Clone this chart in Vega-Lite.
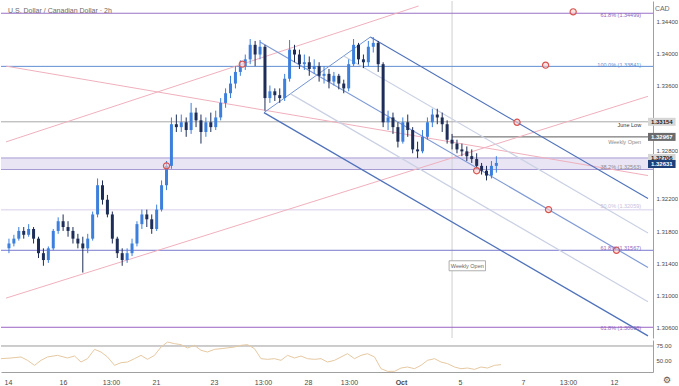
{
  "$schema": "https://vega.github.io/schema/vega-lite/v6.json",
  "padding": 0,
  "spacing": 1,
  "background": "white",
  "config": {
    "view": {"stroke": null},
    "font": "Liberation Sans",
    "axis": {"labelFont": "Liberation Sans", "labelFontSize": 6, "labelColor": "#4a4a4a", "ticks": false, "grid": false, "domainColor": "#a0a0a0", "labelPadding": 3, "title": null}
  },
  "datasets": {
    "candles": [
      {"t":0,"o":1.31586,"h":1.31706,"l":1.31526,"c":1.31646},
      {"t":1,"o":1.31646,"h":1.31754,"l":1.31610,"c":1.31706},
      {"t":2,"o":1.31706,"h":1.31850,"l":1.31682,"c":1.31802},
      {"t":3,"o":1.31802,"h":1.31850,"l":1.31706,"c":1.31754},
      {"t":4,"o":1.31754,"h":1.31886,"l":1.31730,"c":1.31826},
      {"t":5,"o":1.31826,"h":1.31850,"l":1.31646,"c":1.31706},
      {"t":6,"o":1.31706,"h":1.31730,"l":1.31466,"c":1.31526},
      {"t":7,"o":1.31526,"h":1.31586,"l":1.31370,"c":1.31441},
      {"t":8,"o":1.31441,"h":1.31610,"l":1.31406,"c":1.31586},
      {"t":9,"o":1.31586,"h":1.31826,"l":1.31562,"c":1.31802},
      {"t":10,"o":1.31802,"h":1.31970,"l":1.31766,"c":1.31922},
      {"t":11,"o":1.31922,"h":1.32006,"l":1.31802,"c":1.31850},
      {"t":12,"o":1.31850,"h":1.31922,"l":1.31730,"c":1.31802},
      {"t":13,"o":1.31802,"h":1.31850,"l":1.31646,"c":1.31706},
      {"t":14,"o":1.31706,"h":1.31766,"l":1.31586,"c":1.31646},
      {"t":15,"o":1.31646,"h":1.31730,"l":1.31286,"c":1.31586},
      {"t":16,"o":1.31586,"h":1.31766,"l":1.31526,"c":1.31706},
      {"t":17,"o":1.31706,"h":1.32042,"l":1.31682,"c":1.32006},
      {"t":18,"o":1.32006,"h":1.32452,"l":1.31970,"c":1.32368},
      {"t":19,"o":1.32368,"h":1.32428,"l":1.32128,"c":1.32188},
      {"t":20,"o":1.32188,"h":1.32248,"l":1.31970,"c":1.32006},
      {"t":21,"o":1.32006,"h":1.32042,"l":1.31646,"c":1.31706},
      {"t":22,"o":1.31706,"h":1.31730,"l":1.31466,"c":1.31526},
      {"t":23,"o":1.31526,"h":1.31586,"l":1.31370,"c":1.31441},
      {"t":24,"o":1.31441,"h":1.31586,"l":1.31406,"c":1.31526},
      {"t":25,"o":1.31526,"h":1.31706,"l":1.31490,"c":1.31646},
      {"t":26,"o":1.31646,"h":1.31922,"l":1.31610,"c":1.31886},
      {"t":27,"o":1.31886,"h":1.32066,"l":1.31826,"c":1.32006},
      {"t":28,"o":1.32006,"h":1.32066,"l":1.31850,"c":1.31946},
      {"t":29,"o":1.31946,"h":1.32006,"l":1.31766,"c":1.31826},
      {"t":30,"o":1.31826,"h":1.32128,"l":1.31802,"c":1.32066},
      {"t":31,"o":1.32066,"h":1.32428,"l":1.32042,"c":1.32368},
      {"t":32,"o":1.32368,"h":1.32668,"l":1.32308,"c":1.32608},
      {"t":33,"o":1.32608,"h":1.33208,"l":1.32572,"c":1.33124},
      {"t":34,"o":1.33124,"h":1.33244,"l":1.33028,"c":1.33088},
      {"t":35,"o":1.33088,"h":1.33244,"l":1.33028,"c":1.33148},
      {"t":36,"o":1.33148,"h":1.33208,"l":1.32968,"c":1.33052},
      {"t":37,"o":1.33052,"h":1.33388,"l":1.33004,"c":1.33268},
      {"t":38,"o":1.33268,"h":1.33328,"l":1.33088,"c":1.33172},
      {"t":39,"o":1.33172,"h":1.33244,"l":1.32884,"c":1.33028},
      {"t":40,"o":1.33028,"h":1.33208,"l":1.32968,"c":1.33148},
      {"t":41,"o":1.33148,"h":1.33268,"l":1.33028,"c":1.33088},
      {"t":42,"o":1.33088,"h":1.33292,"l":1.33052,"c":1.33208},
      {"t":43,"o":1.33208,"h":1.33448,"l":1.33172,"c":1.33388},
      {"t":44,"o":1.33388,"h":1.33568,"l":1.33328,"c":1.33508},
      {"t":45,"o":1.33508,"h":1.33724,"l":1.33448,"c":1.33628},
      {"t":46,"o":1.33628,"h":1.33844,"l":1.33568,"c":1.33772},
      {"t":47,"o":1.33772,"h":1.33916,"l":1.33724,"c":1.33844},
      {"t":48,"o":1.33844,"h":1.33988,"l":1.33796,"c":1.33928},
      {"t":49,"o":1.33928,"h":1.34180,"l":1.33868,"c":1.34108},
      {"t":50,"o":1.34108,"h":1.34156,"l":1.33844,"c":1.33988},
      {"t":51,"o":1.33988,"h":1.34168,"l":1.33928,"c":1.34084},
      {"t":52,"o":1.34084,"h":1.34108,"l":1.33292,"c":1.33448},
      {"t":53,"o":1.33448,"h":1.33604,"l":1.33388,"c":1.33532},
      {"t":54,"o":1.33532,"h":1.33568,"l":1.33412,"c":1.33484},
      {"t":55,"o":1.33484,"h":1.33568,"l":1.33388,"c":1.33448},
      {"t":56,"o":1.33448,"h":1.33748,"l":1.33412,"c":1.33688},
      {"t":57,"o":1.33688,"h":1.34168,"l":1.33652,"c":1.34048},
      {"t":58,"o":1.34048,"h":1.34108,"l":1.33892,"c":1.33988},
      {"t":59,"o":1.33988,"h":1.34048,"l":1.33808,"c":1.33868},
      {"t":60,"o":1.33868,"h":1.33988,"l":1.33796,"c":1.33892},
      {"t":61,"o":1.33892,"h":1.33964,"l":1.33724,"c":1.33808},
      {"t":62,"o":1.33808,"h":1.33928,"l":1.33748,"c":1.33844},
      {"t":63,"o":1.33844,"h":1.33892,"l":1.33652,"c":1.33724},
      {"t":64,"o":1.33724,"h":1.33844,"l":1.33628,"c":1.33748},
      {"t":65,"o":1.33748,"h":1.33808,"l":1.33568,"c":1.33652},
      {"t":66,"o":1.33652,"h":1.33772,"l":1.33604,"c":1.33724},
      {"t":67,"o":1.33724,"h":1.33748,"l":1.33556,"c":1.33628},
      {"t":68,"o":1.33628,"h":1.33676,"l":1.33508,"c":1.33568},
      {"t":69,"o":1.33568,"h":1.33928,"l":1.33532,"c":1.33868},
      {"t":70,"o":1.33868,"h":1.34180,"l":1.33844,"c":1.34108},
      {"t":71,"o":1.34108,"h":1.34132,"l":1.33868,"c":1.33928},
      {"t":72,"o":1.33928,"h":1.33988,"l":1.33820,"c":1.33892},
      {"t":73,"o":1.33892,"h":1.34156,"l":1.33844,"c":1.34084},
      {"t":74,"o":1.34084,"h":1.34204,"l":1.34012,"c":1.34132},
      {"t":75,"o":1.34132,"h":1.34156,"l":1.33772,"c":1.33868},
      {"t":76,"o":1.33868,"h":1.33892,"l":1.33088,"c":1.33148},
      {"t":77,"o":1.33148,"h":1.33292,"l":1.33052,"c":1.33208},
      {"t":78,"o":1.33208,"h":1.33268,"l":1.33004,"c":1.33088},
      {"t":79,"o":1.33088,"h":1.33148,"l":1.32836,"c":1.32908},
      {"t":80,"o":1.32908,"h":1.33208,"l":1.32884,"c":1.33148},
      {"t":81,"o":1.33148,"h":1.33244,"l":1.32968,"c":1.33052},
      {"t":82,"o":1.33052,"h":1.33088,"l":1.32764,"c":1.32812},
      {"t":83,"o":1.32812,"h":1.32908,"l":1.32704,"c":1.32788},
      {"t":84,"o":1.32788,"h":1.33052,"l":1.32764,"c":1.32968},
      {"t":85,"o":1.32968,"h":1.33208,"l":1.32932,"c":1.33148},
      {"t":86,"o":1.33148,"h":1.33316,"l":1.33088,"c":1.33244},
      {"t":87,"o":1.33244,"h":1.33316,"l":1.33124,"c":1.33208},
      {"t":88,"o":1.33208,"h":1.33268,"l":1.33028,"c":1.33124},
      {"t":89,"o":1.33124,"h":1.33172,"l":1.32884,"c":1.32932},
      {"t":90,"o":1.32932,"h":1.33004,"l":1.32812,"c":1.32884},
      {"t":91,"o":1.32884,"h":1.32932,"l":1.32764,"c":1.32812},
      {"t":92,"o":1.32812,"h":1.32884,"l":1.32728,"c":1.32788},
      {"t":93,"o":1.32788,"h":1.32848,"l":1.32668,"c":1.32728},
      {"t":94,"o":1.32728,"h":1.32812,"l":1.32644,"c":1.32692},
      {"t":95,"o":1.32692,"h":1.32764,"l":1.32572,"c":1.32608},
      {"t":96,"o":1.32608,"h":1.32644,"l":1.32500,"c":1.32548},
      {"t":97,"o":1.32548,"h":1.32608,"l":1.32428,"c":1.32488},
      {"t":98,"o":1.32488,"h":1.32668,"l":1.32452,"c":1.32608},
      {"t":99,"o":1.32608,"h":1.32728,"l":1.32524,"c":1.32644}
    ],
    "rsi": [
      {"t":-0.6,"v":52.4},{"t":1.4,"v":53.6},{"t":3.4,"v":55.4},{"t":4.7,"v":49.4},{"t":6.1,"v":40.5},
      {"t":7.4,"v":49.4},{"t":8.7,"v":55.4},{"t":10.7,"v":58.3},{"t":12.7,"v":53.6},{"t":14.1,"v":57.1},
      {"t":15.4,"v":46.4},{"t":16.7,"v":52.4},{"t":18.1,"v":69.0},{"t":19.4,"v":64.3},{"t":20.7,"v":55.4},
      {"t":22.1,"v":40.5},{"t":23.4,"v":45.2},{"t":24.7,"v":46.4},{"t":26.1,"v":52.4},{"t":27.4,"v":58.3},
      {"t":28.7,"v":51.2},{"t":30.1,"v":58.3},{"t":31.4,"v":73.2},{"t":32.7,"v":82.1},{"t":34.1,"v":79.2},
      {"t":35.4,"v":77.4},{"t":36.7,"v":71.4},{"t":38.1,"v":76.2},{"t":39.4,"v":67.3},{"t":40.7,"v":64.3},
      {"t":42.1,"v":69.0},{"t":43.4,"v":70.2},{"t":46.1,"v":73.2},{"t":47.4,"v":76.2},{"t":48.7,"v":77.4},
      {"t":50.1,"v":70.2},{"t":51.4,"v":52.4},{"t":52.7,"v":51.2},{"t":54.1,"v":52.4},{"t":55.4,"v":49.4},
      {"t":56.7,"v":58.3},{"t":58.1,"v":53.6},{"t":59.4,"v":57.1},{"t":60.7,"v":52.4},{"t":62.1,"v":51.2},
      {"t":63.4,"v":52.4},{"t":64.7,"v":46.4},{"t":66.1,"v":49.4},{"t":67.4,"v":55.4},{"t":68.7,"v":61.3},
      {"t":70.1,"v":52.4},{"t":71.4,"v":58.3},{"t":72.7,"v":61.3},{"t":74.1,"v":55.4},{"t":75.4,"v":34.5},
      {"t":76.7,"v":29.8},{"t":78.1,"v":29.8},{"t":79.4,"v":35.7},{"t":80.7,"v":37.5},{"t":82.1,"v":34.5},
      {"t":83.4,"v":40.5},{"t":84.7,"v":49.4},{"t":86.1,"v":52.4},{"t":87.4,"v":46.4},{"t":88.7,"v":43.5},
      {"t":90.1,"v":37.5},{"t":91.4,"v":34.5},{"t":92.7,"v":35.7},{"t":94.1,"v":33.3},{"t":95.4,"v":37.5},
      {"t":96.7,"v":35.7},{"t":98.1,"v":40.5},{"t":99.4,"v":41.7}
    ],
    "levels": [
      {"name":"f618a","p":1.34499},{"name":"f100","p":1.33841},{"name":"june","p":1.33154},
      {"name":"bandTop","p":1.32706},{"name":"f382","p":1.32563},{"name":"f50","p":1.32063},
      {"name":"f618b","p":1.31562},{"name":"f618c","p":1.30608}
    ],
    "wopen": [{"t0":90,"t1":129.8,"p":1.32967}],
    "band": [{"lo":1.32563,"hi":1.32706}],
    "trend": [
      {"id":"up1","t":-0.6,"p":1.32905},{"id":"up1","t":83.2,"p":1.34589},
      {"id":"up2","t":-0.6,"p":1.30969},{"id":"up2","t":129.8,"p":1.33470},
      {"id":"down","t":-0.6,"p":1.33844},{"id":"down","t":129.8,"p":1.32488}
    ],
    "fork": [
      {"id":"handle","t":51.8,"p":1.33268},{"id":"handle","t":73.4,"p":1.34204},
      {"id":"upper","t":73.4,"p":1.34204},{"id":"upper","t":129.8,"p":1.32203},
      {"id":"q75","t":68.0,"p":1.33970},{"id":"q75","t":129.8,"p":1.31777},
      {"id":"median","t":51.0,"p":1.34144},{"id":"median","t":129.8,"p":1.31350},
      {"id":"q25","t":57.2,"p":1.33500},{"id":"q25","t":129.8,"p":1.30925},
      {"id":"lower","t":51.8,"p":1.33268},{"id":"lower","t":129.8,"p":1.30501}
    ],
    "circles": [
      {"t":32,"p":1.32608},{"t":47.4,"p":1.33868},{"t":95,"p":1.32548},{"t":103.2,"p":1.33148},
      {"t":109.6,"p":1.32066},{"t":114.6,"p":1.34517},{"t":109,"p":1.33856},{"t":123.4,"p":1.31562}
    ],
    "labels": [
      {"text":"61.8% (1.34499)","lp":1.34481,"kind":"purple"},
      {"text":"100.0% (1.33841)","lp":1.33856,"kind":"blue"},
      {"text":"June Low","lp":1.33110,"kind":"dark"},
      {"text":"Weekly Open","lp":1.32908,"kind":"gray"},
      {"text":"38.2% (1.32563)","lp":1.32599,"kind":"gray"},
      {"text":"50.0% (1.32059)","lp":1.32112,"kind":"faint"},
      {"text":"61.8% (1.31567)","lp":1.31589,"kind":"purple"},
      {"text":"61.8% (1.30608)","lp":1.30597,"kind":"purple"}
    ],
    "tags": [
      {"text":"1.33154","p":1.33154,"kind":"light"},
      {"text":"1.32967","p":1.32967,"kind":"dark"},
      {"text":"1.32706","p":1.32706,"kind":"light"},
      {"text":"1.32631","p":1.32631,"kind":"navy"}
    ],
    "boxes": [{"text":"Weekly Open","t0":89.4,"t1":96.8,"tc":93.1,"p":1.31370}],
    "titles": [
      {"text":"U.S. Dollar / Canadian Dollar · 2h","t":-0.2,"p":1.34529},
      {"text":"CAD","t":131.2,"p":1.34550}
    ],
    "icons": [{"text":"⚙","t":132.6,"v":14}]
  },
  "vconcat": [
    {
      "width": 652,
      "height": 337,
      "resolve": {"scale": {"color": "independent", "strokeWidth": "independent"}},
      "layer": [
        {
          "data": {"name": "band"},
          "mark": {"type": "rect", "color": "#e9e5f5"},
          "encoding": {
            "y": {"field": "lo", "type": "quantitative", "scale": {"domain": [1.30537, 1.34589], "nice": false, "zero": false},
                  "axis": {"orient": "right", "values": [1.306,1.308,1.31,1.312,1.314,1.316,1.318,1.32,1.322,1.324,1.328,1.334,1.336,1.338,1.34,1.342,1.344], "format": ".5f", "title": null, "domain": true}},
            "y2": {"field": "hi"}
          }
        },
        {
          "data": {"values": [{"t": 90}]},
          "mark": {"type": "rule", "color": "#cfcfcf", "strokeWidth": 1},
          "encoding": {
            "x": {"field": "t", "type": "quantitative", "scale": {"domain": [-0.6, 129.8], "nice": false, "zero": false}, "axis": null}
          }
        },
        {
          "data": {"name": "levels"},
          "mark": {"type": "rule", "strokeWidth": 1},
          "encoding": {
            "y": {"field": "p", "type": "quantitative"},
            "color": {"field": "name", "type": "nominal", "legend": null,
                      "scale": {"domain": ["f618a","f100","june","bandTop","f382","f50","f618b","f618c"],
                                "range": ["#9a72c6","#5f8fd3","#a8a8a8","#a79bd1","#a79bd1","#d9cdea","#7b78cf","#9a63c4"]}}
          }
        },
        {
          "data": {"name": "wopen"},
          "mark": {"type": "rule", "color": "#5a5a5a", "strokeWidth": 1},
          "encoding": {
            "x": {"field": "t0", "type": "quantitative", "axis": null},
            "x2": {"field": "t1"},
            "y": {"field": "p", "type": "quantitative"}
          }
        },
        {
          "data": {"name": "trend"},
          "mark": {"type": "line", "color": "#f0b0bd", "strokeWidth": 1, "clip": true},
          "encoding": {
            "x": {"field": "t", "type": "quantitative", "axis": null},
            "y": {"field": "p", "type": "quantitative"},
            "detail": {"field": "id"}
          }
        },
        {
          "data": {"name": "fork"},
          "mark": {"type": "line", "clip": true},
          "encoding": {
            "x": {"field": "t", "type": "quantitative", "axis": null},
            "y": {"field": "p", "type": "quantitative"},
            "detail": {"field": "id"},
            "color": {"field": "id", "type": "nominal", "legend": null,
                      "scale": {"domain": ["handle","upper","q75","median","q25","lower"],
                                "range": ["#7393d2","#4f72bb","#cad1e3","#7f9bd5","#cad1e3","#4f72bb"]}},
            "strokeWidth": {"field": "id", "type": "nominal", "legend": null,
                      "scale": {"domain": ["handle","upper","q75","median","q25","lower"],
                                "range": [1, 1.3, 1, 1.1, 1, 1.3]}}
          }
        },
        {
          "data": {"name": "candles"},
          "mark": {"type": "rule", "strokeWidth": 1},
          "encoding": {
            "x": {"field": "t", "type": "quantitative", "axis": null},
            "y": {"field": "l", "type": "quantitative"},
            "y2": {"field": "h"},
            "color": {"condition": {"test": "datum.c >= datum.o", "value": "#3c7fdd"}, "value": "#1d2d57"}
          }
        },
        {
          "data": {"name": "candles"},
          "mark": {"type": "bar", "size": 3},
          "encoding": {
            "x": {"field": "t", "type": "quantitative", "axis": null},
            "y": {"field": "o", "type": "quantitative"},
            "y2": {"field": "c"},
            "color": {"condition": {"test": "datum.c >= datum.o", "value": "#3c7fdd"}, "value": "#1d2d57"}
          }
        },
        {
          "data": {"name": "circles"},
          "mark": {"type": "point", "shape": "circle", "size": 38, "stroke": "#d9534f", "fill": "#f6d0d0", "fillOpacity": 0.6, "strokeWidth": 1.2},
          "encoding": {
            "x": {"field": "t", "type": "quantitative", "axis": null},
            "y": {"field": "p", "type": "quantitative"}
          }
        },
        {
          "data": {"name": "labels"},
          "mark": {"type": "text", "align": "right", "baseline": "middle", "fontSize": 5.5},
          "encoding": {
            "x": {"datum": 128.4, "type": "quantitative", "axis": null},
            "y": {"field": "lp", "type": "quantitative"},
            "text": {"field": "text"},
            "fontWeight": {"condition": {"test": "datum.kind === 'dark'", "value": "bold"}, "value": "normal"},
            "color": {"field": "kind", "type": "nominal", "legend": null,
                      "scale": {"domain": ["purple","blue","dark","gray","faint"],
                                "range": ["#8a66c0","#5f8fd3","#333333","#8a8a8a","#c9bde0"]}}
          }
        },
        {
          "data": {"name": "boxes"},
          "mark": {"type": "bar", "size": 10, "fill": "white", "stroke": "#9a9a9a", "strokeWidth": 0.8},
          "encoding": {
            "x": {"field": "t0", "type": "quantitative", "axis": null},
            "x2": {"field": "t1"},
            "y": {"field": "p", "type": "quantitative"}
          }
        },
        {
          "data": {"name": "boxes"},
          "mark": {"type": "text", "align": "center", "baseline": "middle", "fontSize": 5.5, "color": "#666666"},
          "encoding": {
            "x": {"field": "tc", "type": "quantitative", "axis": null},
            "y": {"field": "p", "type": "quantitative"},
            "text": {"field": "text"}
          }
        },
        {
          "data": {"name": "tags"},
          "mark": {"type": "bar", "size": 8},
          "encoding": {
            "x": {"datum": 129.8, "type": "quantitative", "axis": null},
            "x2": {"datum": 135.4},
            "y": {"field": "p", "type": "quantitative"},
            "color": {"field": "kind", "type": "nominal", "legend": null,
                      "scale": {"domain": ["light","dark","navy"], "range": ["#d6d6d6","#6b6b6b","#1d3f7a"]}}
          }
        },
        {
          "data": {"name": "tags"},
          "mark": {"type": "text", "align": "left", "baseline": "middle", "fontSize": 6, "fontWeight": "bold"},
          "encoding": {
            "x": {"datum": 130.4, "type": "quantitative", "axis": null},
            "y": {"field": "p", "type": "quantitative"},
            "text": {"field": "text"},
            "color": {"condition": {"test": "datum.kind === 'light'", "value": "#222222"}, "value": "#ffffff"}
          }
        },
        {
          "data": {"name": "titles"},
          "mark": {"type": "text", "align": "left", "baseline": "middle", "fontSize": 7, "color": "#6a6a6a"},
          "encoding": {
            "x": {"field": "t", "type": "quantitative", "axis": null},
            "y": {"field": "p", "type": "quantitative"},
            "text": {"field": "text"}
          }
        }
      ]
    },
    {
      "width": 652,
      "height": 32,
      "layer": [
        {
          "data": {"values": [{"v": 75}]},
          "mark": {"type": "rule", "color": "#9a9a9a", "strokeWidth": 1},
          "encoding": {
            "y": {"field": "v", "type": "quantitative", "scale": {"domain": [28.6, 85.7], "nice": false, "zero": false},
                  "axis": {"orient": "right", "values": [50, 75], "format": ".2f", "title": null}}
          }
        },
        {
          "data": {"name": "rsi"},
          "mark": {"type": "line", "color": "#e6c9a2", "strokeWidth": 1, "clip": true},
          "encoding": {
            "x": {"field": "t", "type": "quantitative", "scale": {"domain": [-0.6, 129.8], "nice": false, "zero": false},
                  "axis": {"orient": "bottom", "values": [0, 11.8, 21.4, 30.4, 42, 51.8, 60.8, 69, 79.4, 91.2, 103.8, 112.8, 122],
                           "labelExpr": "datum.value < 5 ? '14' : datum.value < 15 ? '16' : datum.value < 25 ? '13:00' : datum.value < 35 ? '21' : datum.value < 45 ? '23' : datum.value < 55 ? '13:00' : datum.value < 65 ? '28' : datum.value < 75 ? '13:00' : datum.value < 85 ? 'Oct' : datum.value < 95 ? '5' : datum.value < 108 ? '7' : datum.value < 118 ? '13:00' : '12'",
                           "labelFontWeight": {"condition": {"test": "datum.value > 75 && datum.value < 85", "value": "bold"}, "value": "normal"},
                           "labelFontSize": 7,
                           "labelFlush": 5, "labelOverlap": false, "labelPadding": 6, "title": null}},
            "y": {"field": "v", "type": "quantitative"}
          }
        },
        {
          "data": {"name": "icons"},
          "mark": {"type": "text", "font": "DejaVu Sans", "fontSize": 9, "color": "#555555", "baseline": "middle", "align": "center"},
          "encoding": {
            "x": {"field": "t", "type": "quantitative"},
            "y": {"field": "v", "type": "quantitative"},
            "text": {"field": "text"}
          }
        }
      ]
    }
  ]
}
